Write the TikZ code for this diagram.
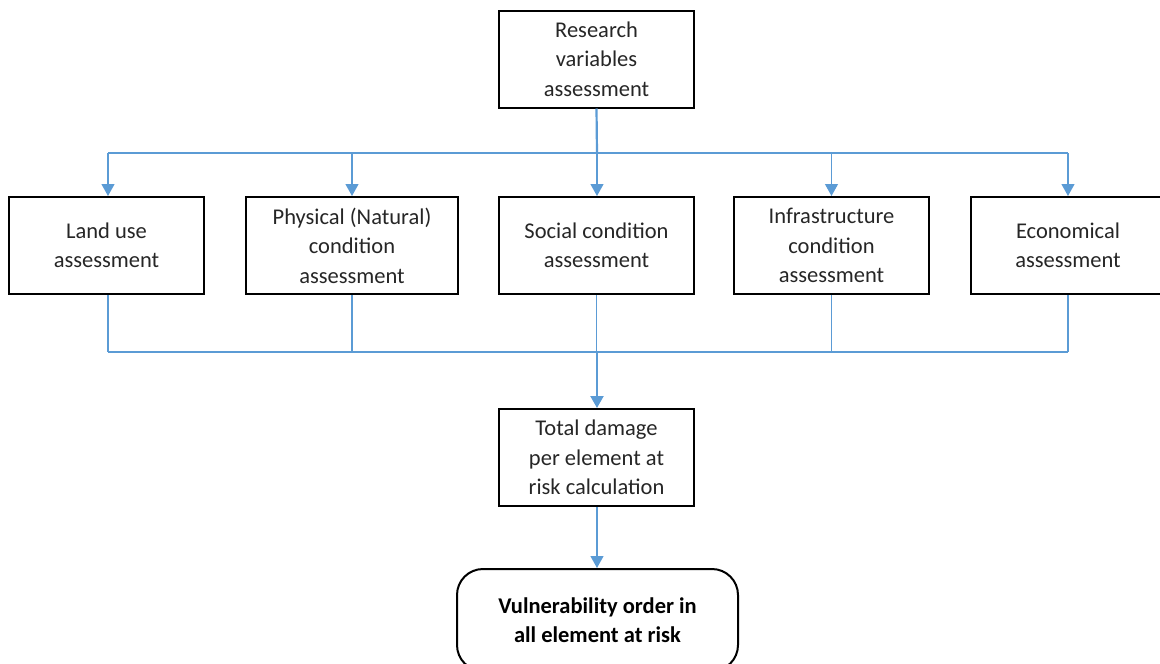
\documentclass[tikz,border=0pt]{standalone}
\usepackage{fontspec}
\setmainfont{Carlito}
\usetikzlibrary{arrows.meta}
\definecolor{conn}{RGB}{91,155,213}
\definecolor{txt}{RGB}{38,38,38}
\tikzset{
  x=1pt,y=-1pt,
  box/.style={draw=black,line width=2pt,minimum width=195pt,minimum height=97pt,
    align=center,font=\fontsize{22.5}{29.5}\selectfont,text=txt,inner sep=2pt},
  thinline/.style={draw=conn,line width=1.2pt},
  thickline/.style={draw=conn,line width=2.2pt},
  arr/.style={-{Triangle[width=13pt,length=12pt]},conn},
}
\begin{document}
\begin{tikzpicture}
\useasboundingbox (0,0) rectangle (1160,664);
\node[box] (research) at (596.5,59) {Research\\variables\\assessment};
\node[box] (land) at (106.5,245.5) {Land use\\assessment};
\node[box,minimum width=212pt] (phys) at (352,245.5) {Physical (Natural)\\condition\\assessment};
\node[box] (social) at (596.5,245.5) {Social condition\\assessment};
\node[box] (infra) at (831.5,245.5) {Infrastructure\\condition\\assessment};
\node[box] (econ) at (1068,245.5) {Economical\\assessment};
\node[box] (total) at (596.5,457.5) {Total damage\\per element at\\risk calculation};
\node[box,minimum width=281pt,minimum height=102pt,rounded corners=26pt,
  font=\bfseries\fontsize{22.5}{29}\selectfont,text=black] (vuln) at (597.5,620) {Vulnerability order in\\all element at risk};

\coordinate (tj) at (597,153);
\coordinate (tl) at (108,153);
\coordinate (tr) at (1068,153);
\coordinate (bj) at (597,352);
\coordinate (bl) at (108,352);
\coordinate (br) at (1068,352);

\draw[thickline] (research.south) -- (tj);
\draw[thinline] (tl) -- (tr);
\draw[thinline,arr] (tl) -- (land.north -| tl);
\draw[thinline,arr] (tj -| phys.north) -- (phys.north);
\draw[thinline,arr] (tj) -- (social.north -| tj);
\draw[thinline,arr] (tj -| infra.north) -- (infra.north);
\draw[thinline,arr] (tr) -- (econ.north -| tr);

\draw[thinline] (land.south -| bl) -- (bl);
\draw[thinline] (phys.south) -- (bj -| phys.south);
\draw[thinline] (social.south) -- (bj -| social.south);
\draw[thinline] (infra.south) -- (bj -| infra.south);
\draw[thinline] (econ.south -| br) -- (br);
\draw[thinline] (bl) -- (br);
\draw[thickline,arr] (bj) -- (total.north -| bj);
\draw[thinline,arr] (total.south -| bj) -- (vuln.north -| bj);
\end{tikzpicture}
\end{document}
